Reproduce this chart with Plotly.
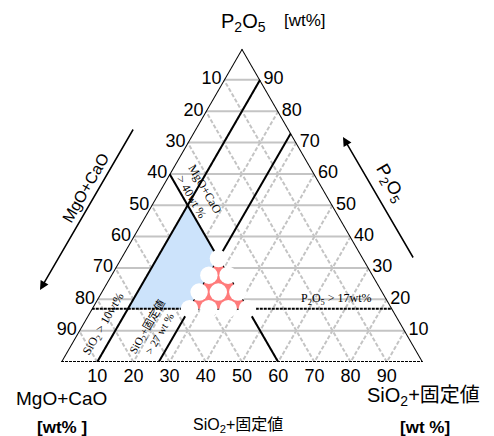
import plotly.graph_objects as go

W, H = 494, 436

# ---- data (wt%) ----
TICKS = [10, 20, 30, 40, 50, 60, 70, 80, 90]
TICK_LABELS = [str(t) for t in TICKS]

# blue region: SiO2>10, MgO+CaO>40, P2O5>17, SiO2<27
BLUE_A = [50, 33, 17, 17]
BLUE_B = [40, 40, 56, 73]
BLUE_C = [10, 27, 27, 10]

# red region: all conditions
RED_A = [33, 17, 17]
RED_B = [40, 56, 40]
RED_C = [27, 27, 43]

# white dots over red region
DOT_A = [17, 17, 17, 17, 22.3, 22.3, 22.3, 27.7, 27.7, 33]
DOT_B = [56, 50.7, 45.3, 40, 50.7, 45.4, 40, 45.3, 40, 40]
DOT_C = [27, 32.3, 37.7, 43, 27, 32.3, 37.7, 27, 32.3, 27]

# boundary lines (a = P2O5, b = MgO+CaO, c = SiO2+固定値)
SIO2_10 = dict(a=[0, 90], b=[90, 0], c=[10, 10])
SIO2_27 = dict(a=[0, 73], b=[73, 0], c=[27, 27])
MGO_40 = dict(a=[60, 0], b=[40, 40], c=[0, 60])
P2O5_17 = dict(a=[17, 17], b=[83, 0], c=[0, 83])

EDGE_L = dict(a=[100, 0], b=[0, 100], c=[0, 0])
EDGE_R = dict(a=[100, 0], b=[0, 0], c=[0, 100])
EDGE_B = dict(a=[0, 0], b=[100, 0], c=[0, 100])

SANS = "Liberation Sans, Arial, Noto Sans CJK JP"
SERIF = "Liberation Serif, Times New Roman, Noto Sans CJK JP"

fig = go.Figure()

# blue region
fig.add_trace(go.Scatterternary(a=BLUE_A, b=BLUE_B, c=BLUE_C, mode="lines",
                                fill="toself", fillcolor="#cce3fb",
                                line=dict(width=0, color="#cce3fb"), hoverinfo="skip"))

# black boundary lines
for ln in (SIO2_10, SIO2_27, MGO_40, EDGE_L, EDGE_R):
    fig.add_trace(go.Scatterternary(**ln, mode="lines", line=dict(color="black", width=2),
                                    hoverinfo="skip"))
for ln in (P2O5_17, EDGE_B):
    fig.add_trace(go.Scatterternary(**ln, mode="lines",
                                    line=dict(color="black", width=2, dash="3px,1px"),
                                    hoverinfo="skip", cliponaxis=False))

# red region
fig.add_trace(go.Scatterternary(a=RED_A, b=RED_B, c=RED_C, mode="lines",
                                fill="toself", fillcolor="#ff7b7b",
                                line=dict(width=0, color="#ff7b7b"), hoverinfo="skip"))
# white dots
fig.add_trace(go.Scatterternary(a=DOT_A, b=DOT_B, c=DOT_C, mode="markers",
                                marker=dict(size=17.5, color="white", line=dict(width=0)),
                                hoverinfo="skip", cliponaxis=False))

tickfont = dict(family=SANS, size=18, color="black")
# left edge labels (MgO+CaO)
fig.add_trace(go.Scatterternary(a=[100 - t for t in TICKS], b=TICKS, c=[0] * 9,
                                mode="markers+text", text=TICK_LABELS,
                                textposition="middle left", textfont=tickfont,
                                marker=dict(size=2, opacity=0), cliponaxis=False,
                                hoverinfo="skip"))
# right edge labels (P2O5)
fig.add_trace(go.Scatterternary(a=TICKS, b=[0] * 9, c=[100 - t for t in TICKS],
                                mode="markers+text", text=TICK_LABELS,
                                textposition="middle right", textfont=tickfont,
                                marker=dict(size=4, opacity=0), cliponaxis=False,
                                hoverinfo="skip"))
# bottom labels (SiO2+固定値)
fig.add_trace(go.Scatterternary(a=[0] * 9, b=[100 - t for t in TICKS], c=TICKS,
                                mode="markers+text", text=TICK_LABELS,
                                textposition="bottom center", textfont=tickfont,
                                marker=dict(size=8, opacity=0), cliponaxis=False,
                                hoverinfo="skip"))

gridc = "#c4c4c4"
axis_common = dict(min=0, showticklabels=False, ticks="", showline=False,
                   showgrid=True, gridcolor=gridc, gridwidth=1.6,
                   tickmode="array", tickvals=TICKS, title=dict(text=""))

fig.update_layout(
    width=W, height=H,
    margin=dict(l=0, r=0, t=0, b=0, pad=0),
    paper_bgcolor="white",
    showlegend=False,
    ternary=dict(
        sum=100,
        bgcolor="white",
        domain=dict(x=[61 / W, 423 / W], y=[74 / H, (74 + 313.5) / H]),
        aaxis=dict(**axis_common, griddash="solid"),
        baxis=dict(**axis_common, griddash="4px,2px"),
        caxis=dict(**axis_common, griddash="4px,2px"),
    ),
)


def px(x, y):
    return x / W, 1 - y / H


def ann(x, y, text, size, family=SANS, angle=0, **kw):
    X, Y = px(x, y)
    fig.add_annotation(x=X, y=Y, xref="paper", yref="paper", text=text, showarrow=False,
                       textangle=angle, font=dict(family=family, size=size, color="black"),
                       xanchor="center", yanchor="middle", **kw)


# titles / axis names
ann(243, 22, "P<sub>2</sub>O<sub>5</sub>", 20)
ann(305, 21, "[wt%]", 17)
ann(62, 398, "MgO+CaO", 19)
ann(62, 427, "<b>[wt% ]</b>", 17)
ann(423, 396, "SiO<sub>2</sub>+固定値", 20)
ann(425, 427, "<b>[wt %]</b>", 17)
ann(238, 425, "SiO<sub>2</sub>+固定値", 16)
ann(85, 188, "MgO+CaO", 16, angle=-60)
ann(390, 183, "P<sub>2</sub>O<sub>5</sub>", 18, angle=60)

# inner condition labels
ann(336, 299, "P<sub>2</sub>O<sub>5</sub> > 17wt%", 12, family=SERIF)
ann(104, 324, "SiO<sub>2</sub> > 10wt%", 12, family=SERIF, angle=-60)
ann(153, 330, "SiO<sub>2</sub>+固定値<br>> 27 wt %", 11, family=SERIF, angle=-60)
ann(198, 193, "MgO+CaO<br>> 40wt %", 12, family=SERIF, angle=60)

# arrows
for (hx, hy, tx, ty) in [(40, 290, 134, 128), (343, 137, 414, 259)]:
    X, Y = px(hx, hy)
    fig.add_annotation(x=X, y=Y, xref="paper", yref="paper", ax=tx - hx, ay=ty - hy,
                       axref="pixel", ayref="pixel", text="", showarrow=True,
                       arrowhead=2, arrowsize=1.2, arrowwidth=1.5, arrowcolor="black")

fig.write_html("out.html", config={"displayModeBar": False},
               post_script="document.body.style.margin='0';document.body.style.padding='0';")
